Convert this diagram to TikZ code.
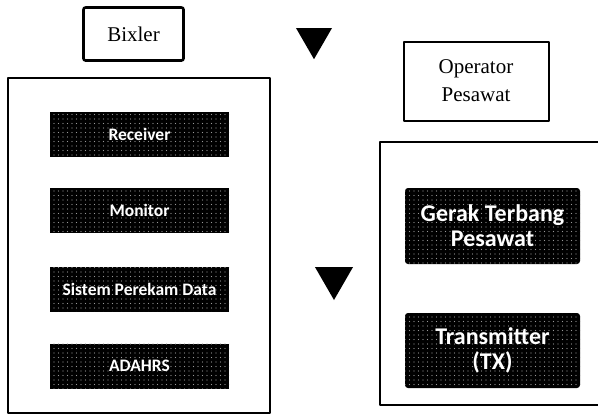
\documentclass[tikz,border=0pt]{standalone}
\usepackage{fontspec}
\setmainfont{Liberation Serif}
\newfontfamily\boxfont{Carlito}
\usetikzlibrary{shapes.geometric, patterns.meta}

\tikzset{
  titlebox/.style={draw=black, line width=2pt, fill=white, align=center, inner sep=0pt},
  darkbox/.style={fill=black, inner sep=0pt, align=center, text=white,
    font=\boxfont\bfseries,
    postaction={pattern={Dots[radius=0.6pt, distance=4.5pt]}, pattern color=black!40}},
  marker/.style={regular polygon, regular polygon sides=3, shape border rotate=180,
    fill=black, inner sep=0pt, outer sep=0pt}
}

\begin{document}
\begin{tikzpicture}[line cap=round,line join=round,x=1pt,y=-1pt]
\useasboundingbox (0,0) rectangle (598,416);
\clip (0,0) rectangle (598,416);
% headers
\node[titlebox, rounded corners=2pt, line width=2.6pt, minimum width=100pt, minimum height=53pt,
  font=\fontsize{21}{23}\selectfont] (bixler) at (133.5,34) {Bixler};
\node[titlebox, minimum width=145pt, minimum height=79pt,
  font=\fontsize{21}{28}\selectfont] (operator) at (476,81) {Operator\\Pesawat};
% markers
\node[marker, minimum size=41.6pt] (mark1) at (314,38.4) {};
\node[marker, minimum size=44pt] (mark2) at (334,278) {};
% outer frames
\draw[line width=1.3pt] (8,78) rectangle (270,413);
\draw[line width=1.3pt] (380,142) rectangle (610,405);
% left column
\foreach \name/\y/\txt in {recv/134/Receiver, mon/210.5/Monitor, rec/289/Sistem Perekam Data, ahrs/366/ADAHRS}
  \node[darkbox, minimum width=179pt, minimum height=45pt, font=\boxfont\bfseries\fontsize{17.5}{19}\selectfont] (\name) at (139.5,\y) {\txt};
% right column
\node[darkbox, rounded corners=3pt, minimum width=175pt, minimum height=76pt,
  font=\boxfont\bfseries\fontsize{24}{25}\selectfont] (gerak) at (492.5,226) {Gerak Terbang\\Pesawat};
\node[darkbox, rounded corners=3pt, minimum width=175pt, minimum height=75pt,
  font=\boxfont\bfseries\fontsize{24}{25}\selectfont] (tx) at (492.5,350.5) {Transmitter\\(TX)};
\end{tikzpicture}
\end{document}
